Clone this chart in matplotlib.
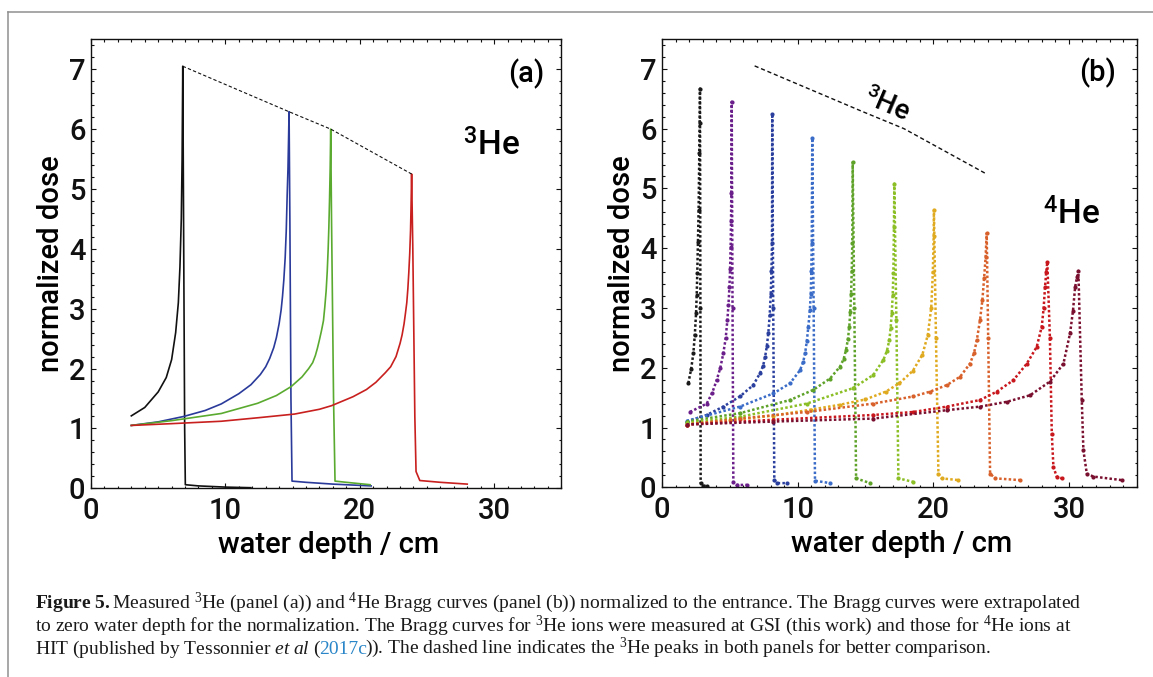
import matplotlib
matplotlib.use('Agg')
import matplotlib.pyplot as plt
from matplotlib.lines import Line2D
from matplotlib.ticker import MultipleLocator

plt.rcParams['font.family'] = ['Roboto', 'DejaVu Sans']
plt.rcParams['font.weight'] = 'medium'
plt.rcParams['axes.labelweight'] = 'medium'
plt.rcParams['mathtext.fontset'] = 'custom'
plt.rcParams['mathtext.rm'] = 'Liberation Serif'
plt.rcParams['mathtext.it'] = 'Liberation Serif:italic'
plt.rcParams['mathtext.bf'] = 'Liberation Serif:bold'
plt.rcParams['mathtext.sf'] = 'Roboto:medium'

# ---- panel (a): 3He Bragg curves (GSI) ----
a_black_x = [3.0, 4.0, 5.0, 5.6, 6.0, 6.3, 6.5, 6.62, 6.72, 6.78, 6.83, 6.9, 6.97, 7.02, 8.0, 10.0, 11.9]
a_black_y = [1.21, 1.35, 1.61, 1.85, 2.15, 2.6, 3.1, 3.7, 4.5, 5.5, 7.05, 4.0, 1.0, 0.06, 0.04, 0.02, 0.01]
a_blue_x = [3.0, 5.0, 6.9, 8.5, 9.7, 11.0, 11.9, 12.6, 13.0, 13.3, 13.6, 13.8, 14.0, 14.15, 14.25, 14.35,
            14.45, 14.53, 14.6, 14.66, 14.7, 14.74, 14.8, 14.88, 14.96, 16.0, 18.0, 20.85]
a_blue_y = [1.05, 1.11, 1.2, 1.3, 1.41, 1.58, 1.73, 1.9, 2.03, 2.17, 2.35, 2.52, 2.75, 2.98, 3.2, 3.48,
            3.85, 4.3, 4.9, 5.35, 5.8, 6.29, 4.5, 1.5, 0.12, 0.1, 0.07, 0.04]
a_green_x = [3.0, 6.0, 9.7, 12.4, 13.8, 14.9, 15.7, 16.2, 16.5, 16.7, 16.85, 17.0, 17.15, 17.3, 17.4,
             17.5, 17.58, 17.65, 17.7, 17.75, 17.8, 17.84, 17.9, 18.05, 18.16, 19.0, 20.77]
a_green_y = [1.05, 1.13, 1.25, 1.42, 1.55, 1.7, 1.86, 2.0, 2.1, 2.22, 2.34, 2.48, 2.63, 2.8, 3.03,
             3.3, 3.62, 4.0, 4.35, 4.8, 5.35, 6.0, 4.5, 1.5, 0.12, 0.1, 0.06]
a_red_x = [3.0, 6.0, 9.7, 12.5, 15.15, 17.0, 17.9, 19.5, 20.5, 21.2, 21.9, 22.3, 22.7, 23.0, 23.15, 23.3,
           23.4, 23.5, 23.58, 23.65, 23.72, 23.78, 23.82, 23.86, 23.95, 24.1, 24.19, 24.47, 26.0, 28.0]
a_red_y = [1.05, 1.08, 1.12, 1.18, 1.24, 1.32, 1.38, 1.53, 1.65, 1.77, 1.93, 2.03, 2.2, 2.42, 2.56, 2.75,
           2.92, 3.1, 3.33, 3.6, 3.92, 4.3, 4.72, 5.25, 4.0, 1.2, 0.28, 0.13, 0.1, 0.07]

# 3He peak positions (dashed line in both panels)
peak_x = [6.83, 14.74, 17.84, 23.86]
peak_y = [7.05, 6.29, 6.0, 5.25]

# ---- panel (b): 4He Bragg curves (HIT) ----
b_curves = [
    # colour, depths, doses
    ('#1a1a1a',
     [1.94, 2.15, 2.31, 2.42, 2.51, 2.56, 2.6, 2.65, 2.7, 2.75, 2.78, 2.8, 2.83, 2.85, 3.0, 3.3],
     [1.74, 1.98, 2.24, 2.55, 2.91, 3.22, 3.58, 4.1, 4.64, 5.59, 6.1, 6.67, 3.0, 0.07, 0.03, 0.02]),
    ('#6a1f8a',
     [2.06, 3.3, 3.7, 4.03, 4.3, 4.52, 4.7, 4.82, 4.9, 4.97, 5.02, 5.06, 5.09, 5.11, 5.14, 5.2, 5.26, 5.5, 6.25],
     [1.26, 1.4, 1.58, 1.79, 2.0, 2.24, 2.5, 2.8, 3.05, 3.35, 3.65, 4.02, 4.45, 4.92, 6.45, 3.0, 0.09, 0.04, 0.04]),
    ('#2a3f9e',
     [1.82, 3.3, 4.52, 5.75, 6.73, 7.23, 7.45, 7.6, 7.73, 7.84, 7.94, 8.02, 8.07, 8.11, 8.13, 8.2, 8.28, 8.5, 9.2],
     [1.1, 1.21, 1.35, 1.52, 1.71, 1.91, 2.03, 2.18, 2.36, 2.58, 2.88, 3.24, 3.62, 4.08, 6.25, 3.0, 0.12, 0.07, 0.07]),
    ('#3a6cc8',
     [1.82, 5.75, 8.21, 9.44, 10.18, 10.4, 10.55, 10.68, 10.79, 10.9, 10.97, 11.01, 11.04, 11.08, 11.18, 11.28, 12.39],
     [1.11, 1.35, 1.57, 1.74, 1.96, 2.09, 2.24, 2.45, 2.69, 2.96, 3.24, 3.62, 4.08, 5.84, 3.0, 0.11, 0.07]),
    ('#5fa22a',
     [1.82, 5.75, 9.44, 11.16, 12.39, 13.13, 13.4, 13.57, 13.71, 13.81, 13.88, 13.94, 13.99, 14.03, 14.06, 14.18,
      14.31, 15.34],
     [1.1, 1.24, 1.46, 1.63, 1.82, 2.02, 2.15, 2.3, 2.48, 2.69, 2.94, 3.24, 3.62, 4.08, 5.44, 3.0, 0.15, 0.07]),
    ('#8cbf26',
     [1.82, 5.75, 10.67, 14.1, 15.58, 16.32, 16.58, 16.76, 16.86, 16.94, 17.01, 17.06, 17.1, 17.13, 17.28, 17.43,
      18.53],
     [1.08, 1.18, 1.4, 1.66, 1.88, 2.13, 2.28, 2.46, 2.67, 2.91, 3.22, 3.58, 4.36, 5.08, 2.8, 0.15, 0.09]),
    ('#e0aa20',
     [1.82, 5.0, 8.2, 11.0, 13.1, 15.0, 16.5, 17.5, 18.5, 19.2, 19.6, 19.85, 19.97, 20.03, 20.05,
      20.2, 20.38, 20.62, 21.85],
     [1.05, 1.12, 1.2, 1.3, 1.38, 1.47, 1.6, 1.74, 1.95, 2.22, 2.55, 3.0, 3.6, 4.2, 4.64,
      2.5, 0.23, 0.15, 0.12]),
    ('#d8602a',
     [1.82, 5.75, 10.67, 15.58, 18.53, 19.76, 21.0, 21.98, 22.71, 23.0, 23.21, 23.45, 23.62, 23.75, 23.86, 23.94,
      24.05, 24.19, 24.56, 26.4],
     [1.05, 1.15, 1.26, 1.4, 1.52, 1.6, 1.71, 1.85, 2.07, 2.24, 2.46, 2.8, 3.13, 3.5, 3.85, 4.25,
      2.5, 0.23, 0.15, 0.12]),
    ('#c8181e',
     [1.82, 8.21, 15.58, 18.53, 21.0, 23.45, 24.68, 25.9, 26.9, 27.63, 28.0, 28.14, 28.24, 28.33, 28.41,
      28.6, 28.74, 28.86, 29.1, 29.48],
     [1.05, 1.13, 1.21, 1.26, 1.35, 1.46, 1.6, 1.79, 2.07, 2.35, 2.69, 3.0, 3.35, 3.6, 3.77,
      2.5, 0.9, 0.34, 0.18, 0.15]),
    ('#7a1030',
     [1.82, 8.21, 15.58, 21.0, 23.45, 25.42, 27.14, 28.61, 29.6, 30.09, 30.3, 30.46, 30.6, 30.7,
      30.95, 31.07, 31.32, 31.8, 33.9],
     [1.05, 1.1, 1.15, 1.29, 1.35, 1.43, 1.54, 1.77, 2.07, 2.58, 2.95, 3.35, 3.52, 3.62,
      1.46, 0.62, 0.23, 0.18, 0.12]),
]

W, H = 1153, 677
fig = plt.figure(figsize=(W / 100, H / 100), dpi=100)

# grey frame round the figure
fig.add_artist(Line2D([8 / W, 1], [1 - 12 / H, 1 - 12 / H], transform=fig.transFigure,
                      color='#8f8f8f', lw=1.1))
fig.add_artist(Line2D([8 / W, 8 / W], [1 - 12 / H, 0], transform=fig.transFigure,
                      color='#8f8f8f', lw=1.1))

ax1 = fig.add_axes([91 / W, (H - 488.3) / H, 470.3 / W, 449.0 / H])
ax2 = fig.add_axes([662 / W, (H - 487.3) / H, 474.7 / W, 448.3 / H])


def style_axes(ax):
    ax.set_xlim(0, 35)
    ax.set_ylim(0, 7.5)
    ax.xaxis.set_major_locator(MultipleLocator(10))
    ax.xaxis.set_minor_locator(MultipleLocator(1))
    ax.yaxis.set_major_locator(MultipleLocator(1))
    ax.yaxis.set_minor_locator(MultipleLocator(0.2))
    ax.tick_params(which='both', direction='in', top=True, right=True, width=0.8, colors='#111111')
    ax.tick_params(which='major', length=3.6, labelsize=21)
    ax.tick_params(which='minor', length=1.8)
    ax.tick_params(axis='x', pad=6)
    ax.tick_params(axis='y', pad=4)
    for sp in ax.spines.values():
        sp.set_linewidth(1.0)
        sp.set_color('#111111')
    ax.set_xlabel('water depth / cm', fontsize=21, va='baseline')
    ax.set_ylabel('normalized dose', fontsize=21, va='baseline')
    ax.xaxis.set_label_coords(0.505, -0.144)
    ax.yaxis.set_label_coords(-0.068, 0.5)


style_axes(ax1)
style_axes(ax2)

# panel (a)
ax1.plot(a_black_x, a_black_y, color='#111111', lw=1.2)
ax1.plot(a_blue_x, a_blue_y, color='#2a3a9a', lw=1.2)
ax1.plot(a_green_x, a_green_y, color='#5aaa30', lw=1.2)
ax1.plot(a_red_x, a_red_y, color='#c8201e', lw=1.2)
ax1.plot(peak_x, peak_y, color='#111111', lw=0.8, ls=(0, (3, 2)))
ax1.text(32.4, 6.93, '(a)', fontsize=21, ha='center', va='center')
ax1.text(29.8, 5.72, r'$^{\mathsf{3}}\mathsf{He}$', fontsize=24, ha='center', va='center')

# panel (b)
for col, xs, ys in b_curves:
    ax2.plot(xs, ys, color=col, lw=1.8, ls=(0, (1, 0.9)), marker='o', ms=3, mew=0)
ax2.plot(peak_x, peak_y, color='#111111', lw=1.0, ls=(0, (3, 2)))
ax2.text(16.6, 6.39, r'$^{\mathsf{3}}\mathsf{He}$', fontsize=20, ha='center', va='center', rotation=-23)
ax2.text(32.1, 6.94, '(b)', fontsize=21, ha='center', va='center')
ax2.text(30.2, 4.56, r'$^{\mathsf{4}}\mathsf{He}$', fontsize=24, ha='center', va='center')

# caption
cap_font = dict(fontsize=14, family='Liberation Serif', weight='normal', color='#1a1a1a', va='baseline')
line1 = (r'$\mathbf{Figure\ 5.}$Measured $^{3}$He (panel (a)) and $^{4}$He Bragg curves (panel (b)) '
         r'normalized to the entrance. The Bragg curves were extrapolated')
line2 = (r'to zero water depth for the normalization. The Bragg curves for $^{3}$He ions were measured '
         r'at GSI (this work) and those for $^{4}$He ions at')
fig.text(35 / W, 1 - 608.5 / H, line1, **cap_font)
fig.text(35 / W, 1 - 631 / H, line2, **cap_font)

renderer = fig.canvas.get_renderer()
x = 35 / W
y3 = 1 - 653.5 / H
for txt, col in [(r'HIT (published by Tessonnier $\mathit{et\ al}$ (', '#1a1a1a'),
                 ('2017c', '#2a86c8'),
                 (r')). The dashed line indicates the $^{3}$He peaks in both panels for better comparison.',
                  '#1a1a1a')]:
    props = dict(cap_font)
    props['color'] = col
    t = fig.text(x, y3, txt, **props)
    x = (t.get_window_extent(renderer=renderer).x1 - 2) / fig.bbox.width

fig.savefig('out.png', dpi=100)
